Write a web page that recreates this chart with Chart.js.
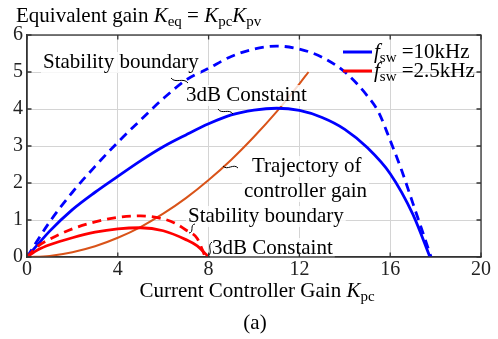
<!DOCTYPE html>
<html>
<head>
<meta charset="utf-8">
<script src="https://cdn.jsdelivr.net/npm/chart.js@4.4.0/dist/chart.umd.min.js"></script>
<style>
  html, body { margin: 0; padding: 0; background: #fff; }
  #wrap { width: 498px; height: 339px; }
</style>
</head>
<body>
<div id="wrap"><canvas id="chart" width="498" height="339"></canvas></div>
<script>
// tick values
const xTicks = [0, 4, 8, 12, 16, 20];
const yTicks = [0, 1, 2, 3, 4, 5, 6];

// fsw = 10kHz, stability boundary (dashed blue)
const xBound10 = [0, 1, 2, 3, 4, 5, 6, 7, 8, 9, 10, 11, 12, 13, 14, 15, 15.5, 16, 16.5, 17, 17.5, 17.8];
const yBound10 = [0, 0.95, 1.75, 2.45, 3.1, 3.7, 4.28, 4.78, 5.1, 5.42, 5.62, 5.7, 5.62, 5.4, 5.0, 4.35, 3.9, 3.15, 2.35, 1.45, 0.55, 0];

// fsw = 10kHz, 3dB constraint (solid blue)
const x3dB10 = [0, 1, 2, 3, 4, 5, 6, 7, 8, 9, 10, 11, 12, 13, 14, 15, 16, 17, 17.75];
const y3dB10 = [0, 0.7, 1.28, 1.75, 2.18, 2.6, 2.98, 3.3, 3.6, 3.84, 3.97, 4.02, 3.96, 3.77, 3.45, 2.95, 2.25, 1.15, 0];

// fsw = 2.5kHz, stability boundary (dashed red)
const xBound25 = [0, 0.5, 1, 2, 3, 4, 5, 6, 6.5, 7, 7.5, 7.85];
const yBound25 = [0, 0.3, 0.48, 0.76, 0.95, 1.07, 1.11, 1.03, 0.92, 0.73, 0.5, 0];

// fsw = 2.5kHz, 3dB constraint (solid red)
const x3dB25 = [0, 0.5, 1, 2, 3, 4, 5, 6, 7, 7.5, 8];
const y3dB25 = [0, 0.2, 0.33, 0.52, 0.67, 0.76, 0.79, 0.71, 0.47, 0.3, 0];

// trajectory of controller gain (orange)
const xTraj = [0, 1, 2, 3, 4, 5, 6, 7, 8, 9, 10, 11, 12, 12.4];
const yTraj = [0, 0.03, 0.13, 0.29, 0.52, 0.81, 1.17, 1.59, 2.08, 2.63, 3.25, 3.93, 4.68, 5.0];

const legendLabels = ['=10kHz', '=2.5kHz'];

const SERIF = "'Liberation Serif', 'Times New Roman', serif";
const FS = 21;
const pts = (xs, ys) => xs.map((x, i) => ({ x: x, y: ys[i] }));

function richWidth(ctx, parts, size) {
  let w = 0;
  for (const p of parts) {
    const fs = p.sub ? Math.round(size * 0.72) : size;
    ctx.font = (p.it ? 'italic ' : '') + fs + 'px ' + SERIF;
    w += ctx.measureText(p.t).width;
  }
  return w;
}

function drawRich(ctx, x, y, parts, size) {
  let cx = x;
  for (const p of parts) {
    const fs = p.sub ? Math.round(size * 0.72) : size;
    ctx.font = (p.it ? 'italic ' : '') + fs + 'px ' + SERIF;
    ctx.fillText(p.t, cx, y + (p.sub ? size * 0.2 : 0));
    cx += ctx.measureText(p.t).width;
  }
  return cx - x;
}

function squiggle(ctx, x0, y0, x1, y1) {
  const dx = x1 - x0, dy = y1 - y0;
  const len = Math.hypot(dx, dy);
  const nx = -dy / len, ny = dx / len;
  const a = 2.2;
  ctx.beginPath();
  ctx.moveTo(x0, y0);
  ctx.bezierCurveTo(x0 + dx * 0.33 + nx * a * 2, y0 + dy * 0.33 + ny * a * 2,
                    x0 + dx * 0.66 - nx * a * 2, y0 + dy * 0.66 - ny * a * 2,
                    x1, y1);
  ctx.stroke();
}

const notes = [
  { text: 'Stability boundary', x: 43, y: 68, sq: [171, 78, 188, 83] },
  { text: '3dB Constaint', x: 186, y: 101, sq: [218, 109, 233, 114] },
  { text: 'Trajectory of', x: 252, y: 172, sq: [223, 166, 238, 168] },
  { text: 'controller gain', x: 244, y: 197 },
  { text: 'Stability boundary', x: 188, y: 222, sq: [189, 233, 195, 224] },
  { text: '3dB Constaint', x: 212, y: 254, sq: [208, 256, 212, 242] }
];

const decor = {
  id: 'decor',
  afterDatasetsDraw(chart) {
    const ctx = chart.ctx;
    const a = chart.chartArea;
    const xs = chart.scales.x, ys = chart.scales.y;
    ctx.save();

    // annotation boxes and text
    ctx.textBaseline = 'alphabetic';
    ctx.textAlign = 'left';
    ctx.font = FS + 'px ' + SERIF;
    for (const n of notes) {
      const w = ctx.measureText(n.text).width;
      ctx.fillStyle = 'rgba(255,255,255,0.8)';
      ctx.fillRect(n.x - 2, n.y - 16, w + 4, 21);
    }
    ctx.fillStyle = '#000';
    for (const n of notes) ctx.fillText(n.text, n.x, n.y);
    ctx.strokeStyle = '#000';
    ctx.lineWidth = 1;
    for (const n of notes) if (n.sq) squiggle(ctx, n.sq[0], n.sq[1], n.sq[2], n.sq[3]);

    // frame (top/right) and inside ticks
    ctx.strokeStyle = '#333';
    ctx.lineWidth = 1.3;
    ctx.strokeRect(a.left, a.top, a.right - a.left, a.bottom - a.top);
    ctx.beginPath();
    for (const v of xTicks) {
      const px = xs.getPixelForValue(v);
      ctx.moveTo(px, a.bottom); ctx.lineTo(px, a.bottom - 4.5);
      ctx.moveTo(px, a.top); ctx.lineTo(px, a.top + 4.5);
    }
    for (const v of yTicks) {
      const py = ys.getPixelForValue(v);
      ctx.moveTo(a.left, py); ctx.lineTo(a.left + 4.5, py);
      ctx.moveTo(a.right, py); ctx.lineTo(a.right - 4.5, py);
    }
    ctx.stroke();

    // legend
    const legColors = ['#0000ff', '#ff0000'];
    const legY = [52, 71];
    for (let i = 0; i < 2; i++) {
      ctx.strokeStyle = legColors[i];
      ctx.lineWidth = 3;
      ctx.beginPath();
      ctx.moveTo(343, legY[i]); ctx.lineTo(372, legY[i]);
      ctx.stroke();
      ctx.fillStyle = '#000';
      drawRich(ctx, 374, legY[i] + 6, [
        { t: 'f', it: true }, { t: 'sw', sub: true }, { t: ' ' + legendLabels[i] }
      ], FS);
    }

    // title
    drawRich(ctx, 16, 22, [
      { t: 'Equivalent gain ' }, { t: 'K', it: true }, { t: 'eq', sub: true },
      { t: ' = ' }, { t: 'K', it: true }, { t: 'pc', sub: true },
      { t: 'K', it: true }, { t: 'pv', sub: true }
    ], FS);

    // x axis title
    const xt = [{ t: 'Current Controller Gain ' }, { t: 'K', it: true }, { t: 'pc', sub: true }];
    const xw = richWidth(ctx, xt, FS);
    drawRich(ctx, 257 - xw / 2, 297, xt, FS);

    // caption
    ctx.font = FS + 'px ' + SERIF;
    ctx.textAlign = 'center';
    ctx.fillText('(a)', 255, 329);
    ctx.restore();
  }
};

const ctx = document.getElementById('chart').getContext('2d');
new Chart(ctx, {
  type: 'line',
  data: {
    datasets: [
      { data: pts(xBound25, yBound25), borderColor: '#ff0000', borderWidth: 2.8, borderDash: [9, 6] },
      { data: pts(x3dB25, y3dB25), borderColor: '#ff0000', borderWidth: 2.8 },
      { data: pts(xBound10, yBound10), borderColor: '#0000ff', borderWidth: 2.8, borderDash: [9, 6] },
      { data: pts(x3dB10, y3dB10), borderColor: '#0000ff', borderWidth: 2.8 },
      { data: pts(xTraj, yTraj), borderColor: '#d95319', borderWidth: 2 }
    ]
  },
  options: {
    responsive: false,
    animation: false,
    devicePixelRatio: 1,
    layout: { padding: { top: 35, right: 17, left: 0, bottom: 0 } },
    elements: {
      point: { radius: 0 },
      line: { cubicInterpolationMode: 'monotone', fill: false }
    },
    plugins: { legend: { display: false }, tooltip: { enabled: false } },
    scales: {
      x: {
        type: 'linear', min: 0, max: 20,
        afterBuildTicks: s => { s.ticks = xTicks.map(v => ({ value: v })); },
        afterFit: s => { s.height = 82; },
        ticks: { font: { family: SERIF, size: 20 }, color: '#222', padding: 1, maxRotation: 0 },
        grid: { color: '#d4d4d4', drawTicks: false },
        border: { color: '#333', width: 1.3 }
      },
      y: {
        type: 'linear', min: 0, max: 6,
        afterBuildTicks: s => { s.ticks = yTicks.map(v => ({ value: v })); },
        afterFit: s => { s.width = 27; },
        ticks: { font: { family: SERIF, size: 20 }, color: '#222', padding: 4 },
        grid: { color: '#d4d4d4', drawTicks: false },
        border: { color: '#333', width: 1.3 }
      }
    }
  },
  plugins: [decor]
});
</script>
</body>
</html>
